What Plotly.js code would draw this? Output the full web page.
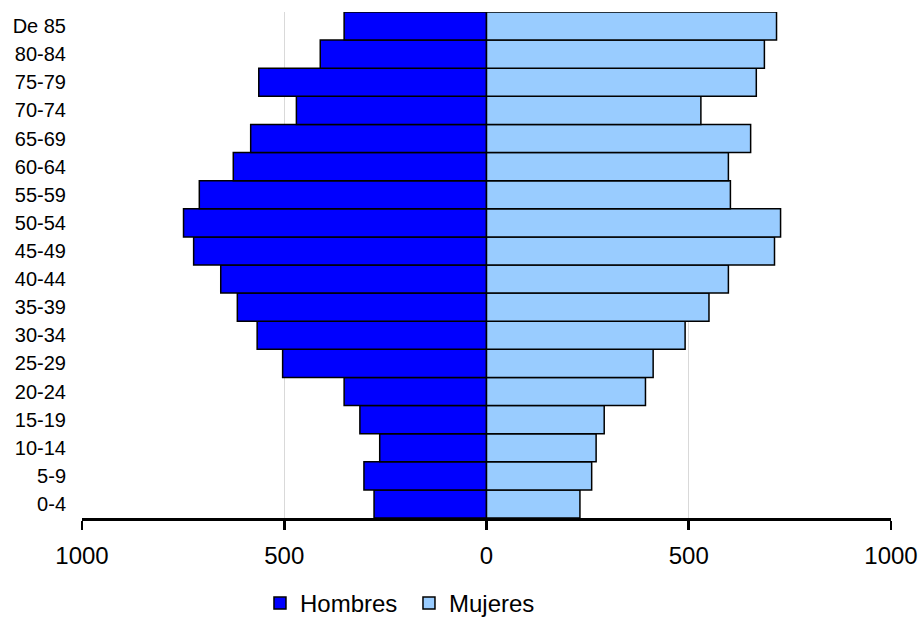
<!DOCTYPE html>
<html>
<head>
<meta charset="utf-8">
<script src="https://cdn.plot.ly/plotly-3.0.1.min.js"></script>
<style>html,body{margin:0;padding:0;background:#fff;}#chart{width:921px;height:627px;}</style>
</head>
<body>
<div id="chart"></div>
<script>
const ageGroups = ["0-4","5-9","10-14","15-19","20-24","25-29","30-34","35-39","40-44","45-49","50-54","55-59","60-64","65-69","70-74","75-79","80-84","De 85"];
const hombres = [278,303,264,313,352,504,567,616,657,724,749,710,626,583,470,563,411,352];
const mujeres = [231,260,271,291,393,412,491,550,598,712,727,603,598,653,530,667,687,717];
const xTickVals = [-1000,-500,0,500,1000];
const xTickText = ["1000","500","0","500","1000"];

const fontFam = '"Liberation Sans", Arial, sans-serif';
const traces = [
  {type:'bar', orientation:'h', name:'Hombres', y:ageGroups, x:hombres.map(v=>-v),
   marker:{color:'#0000FF', line:{color:'#000000', width:1.5}}, hoverinfo:'skip'},
  {type:'bar', orientation:'h', name:'Mujeres', y:ageGroups, x:mujeres,
   marker:{color:'#99CCFF', line:{color:'#000000', width:1.5}}, hoverinfo:'skip'}
];
const layout = {
  width:921, height:627,
  margin:{l:82, r:30, t:12, b:109, autoexpand:false},
  paper_bgcolor:'#ffffff', plot_bgcolor:'#ffffff',
  font:{family:fontFam, color:'#000000', size:21},
  barmode:'relative', bargap:0,
  showlegend:true,
  legend:{orientation:'h', x:0.22, xanchor:'left', y:-0.2134, yanchor:'bottom',
          font:{family:fontFam, size:24, color:'#000'}, itemwidth:30, entrywidth:104, traceorder:'normal'},
  xaxis:{range:[-1000,1000], tickvals:xTickVals, ticktext:xTickText,
         showgrid:true, gridcolor:'#d9d9d9', gridwidth:1, zeroline:false,
         showline:true, linecolor:'#000', linewidth:2.8,
         ticks:'outside', ticklen:9, tickwidth:2.8, tickcolor:'#000',
         tickfont:{family:fontFam, size:24, color:'#000'}, ticklabelstandoff:5, fixedrange:true},
  yaxis:{type:'category', categoryorder:'array', categoryarray:ageGroups,
         range:[-0.5,17.5], showgrid:false, zeroline:false, showline:false,
         ticks:'', ticklabelstandoff:15,
         tickfont:{family:fontFam, size:20, color:'#000'}, fixedrange:true}
};
Plotly.newPlot('chart', traces, layout, {displayModeBar:false, staticPlot:true});
</script>
</body>
</html>
